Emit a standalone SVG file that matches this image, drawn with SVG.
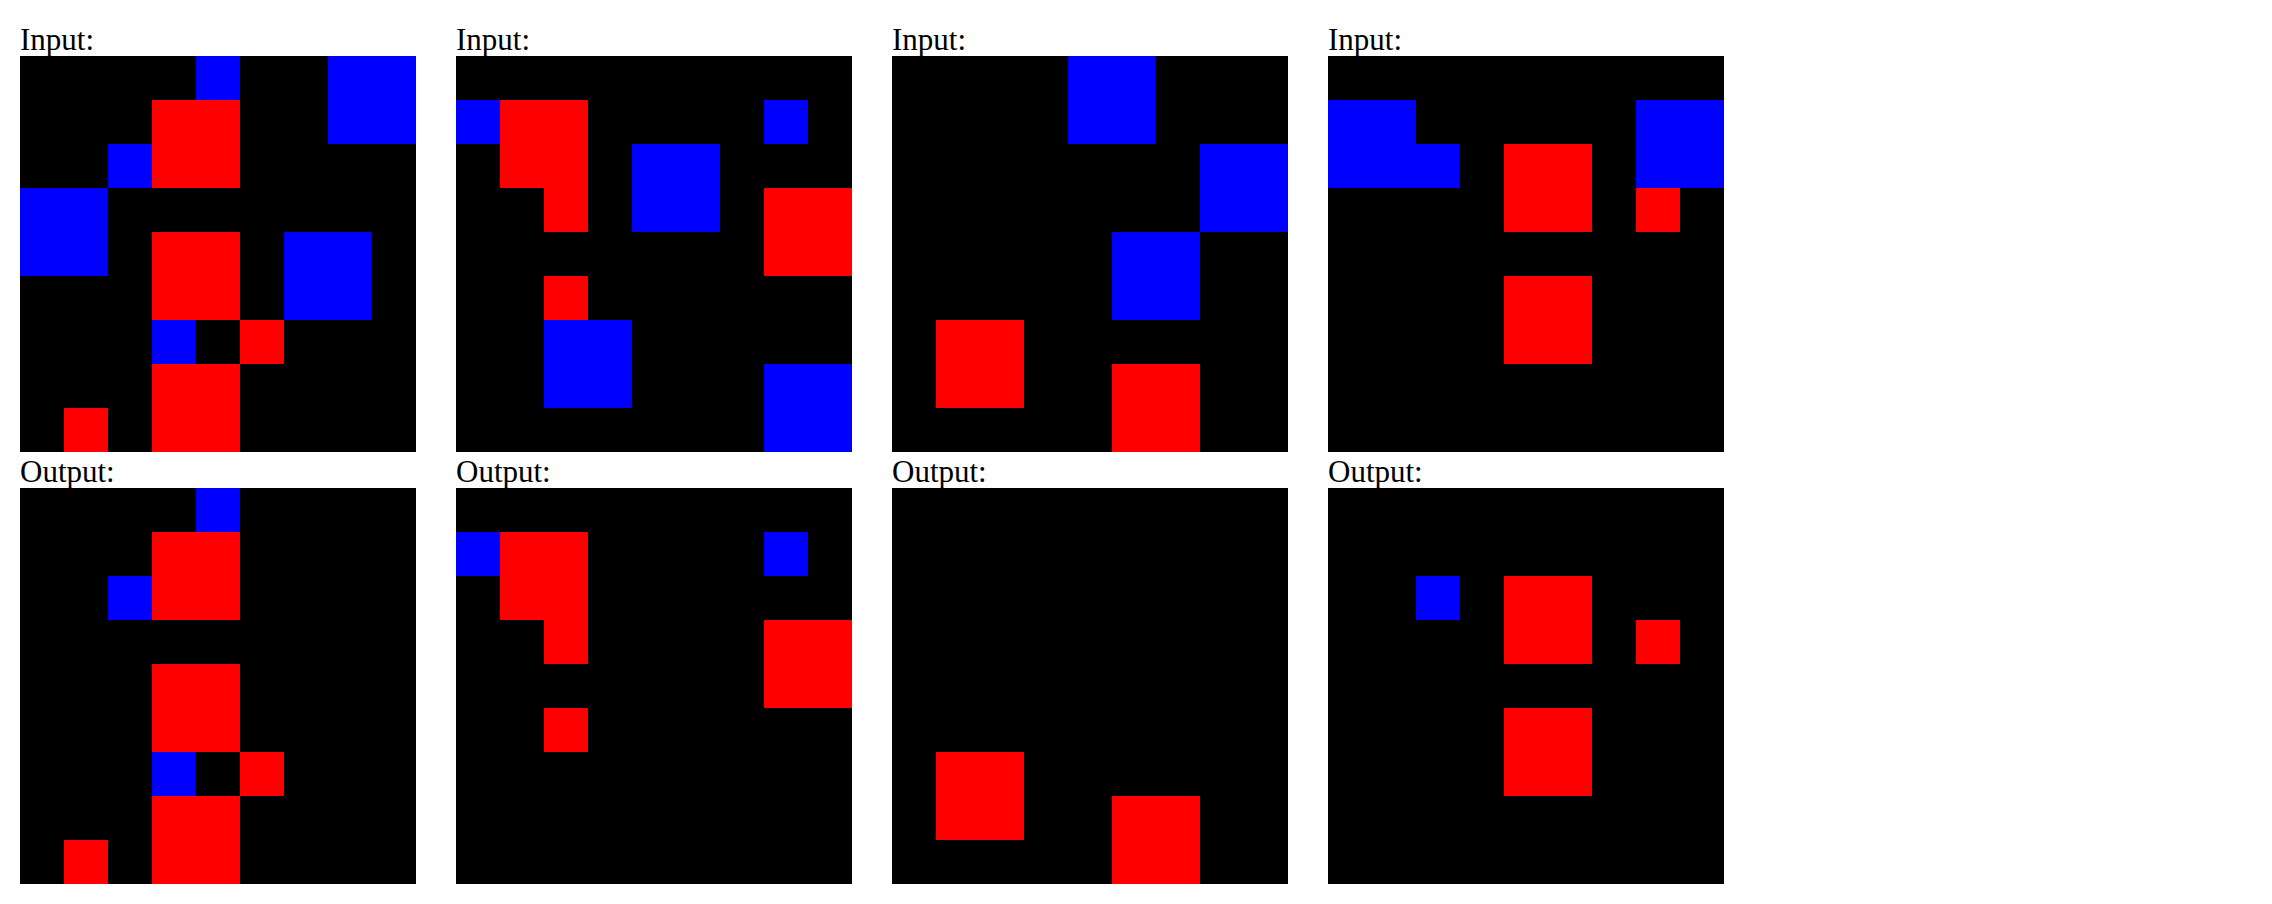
<svg xmlns="http://www.w3.org/2000/svg" width="2272" height="904" viewBox="0 0 2272 904">
<style>
.lbl{font-family:"Liberation Serif","Times New Roman",serif;font-size:31px;fill:#000}
.bg{fill:#000}
.r{fill:#ff0000}
.b{fill:#0000ff}
</style>
<rect x="0" y="0" width="2272" height="904" fill="#fff"/>
<g id="pair1-input">
<text class="lbl" x="20" y="50">Input:</text>
<g transform="translate(20,56)">
<rect class="bg" width="396" height="396"/>
<rect class="b" x="176" y="0" width="44" height="44"/>
<rect class="b" x="308" y="0" width="88" height="88"/>
<rect class="r" x="132" y="44" width="88" height="88"/>
<rect class="b" x="88" y="88" width="44" height="44"/>
<rect class="b" x="0" y="132" width="88" height="88"/>
<rect class="r" x="132" y="176" width="88" height="88"/>
<rect class="b" x="264" y="176" width="88" height="88"/>
<rect class="b" x="132" y="264" width="44" height="44"/>
<rect class="r" x="220" y="264" width="44" height="44"/>
<rect class="r" x="132" y="308" width="88" height="88"/>
<rect class="r" x="44" y="352" width="44" height="44"/>
</g>
</g>
<g id="pair1-output">
<text class="lbl" x="20" y="482">Output:</text>
<g transform="translate(20,488)">
<rect class="bg" width="396" height="396"/>
<rect class="b" x="176" y="0" width="44" height="44"/>
<rect class="r" x="132" y="44" width="88" height="88"/>
<rect class="b" x="88" y="88" width="44" height="44"/>
<rect class="r" x="132" y="176" width="88" height="88"/>
<rect class="b" x="132" y="264" width="44" height="44"/>
<rect class="r" x="220" y="264" width="44" height="44"/>
<rect class="r" x="132" y="308" width="88" height="88"/>
<rect class="r" x="44" y="352" width="44" height="44"/>
</g>
</g>
<g id="pair2-input">
<text class="lbl" x="456" y="50">Input:</text>
<g transform="translate(456,56)">
<rect class="bg" width="396" height="396"/>
<rect class="b" x="0" y="44" width="44" height="44"/>
<rect class="r" x="44" y="44" width="88" height="88"/>
<rect class="r" x="88" y="132" width="44" height="44"/>
<rect class="b" x="308" y="44" width="44" height="44"/>
<rect class="b" x="176" y="88" width="88" height="88"/>
<rect class="r" x="308" y="132" width="88" height="88"/>
<rect class="r" x="88" y="220" width="44" height="44"/>
<rect class="b" x="88" y="264" width="88" height="88"/>
<rect class="b" x="308" y="308" width="88" height="88"/>
</g>
</g>
<g id="pair2-output">
<text class="lbl" x="456" y="482">Output:</text>
<g transform="translate(456,488)">
<rect class="bg" width="396" height="396"/>
<rect class="b" x="0" y="44" width="44" height="44"/>
<rect class="r" x="44" y="44" width="88" height="88"/>
<rect class="r" x="88" y="132" width="44" height="44"/>
<rect class="b" x="308" y="44" width="44" height="44"/>
<rect class="r" x="308" y="132" width="88" height="88"/>
<rect class="r" x="88" y="220" width="44" height="44"/>
</g>
</g>
<g id="pair3-input">
<text class="lbl" x="892" y="50">Input:</text>
<g transform="translate(892,56)">
<rect class="bg" width="396" height="396"/>
<rect class="b" x="176" y="0" width="88" height="88"/>
<rect class="b" x="308" y="88" width="88" height="88"/>
<rect class="b" x="220" y="176" width="88" height="88"/>
<rect class="r" x="44" y="264" width="88" height="88"/>
<rect class="r" x="220" y="308" width="88" height="88"/>
</g>
</g>
<g id="pair3-output">
<text class="lbl" x="892" y="482">Output:</text>
<g transform="translate(892,488)">
<rect class="bg" width="396" height="396"/>
<rect class="r" x="44" y="264" width="88" height="88"/>
<rect class="r" x="220" y="308" width="88" height="88"/>
</g>
</g>
<g id="pair4-input">
<text class="lbl" x="1328" y="50">Input:</text>
<g transform="translate(1328,56)">
<rect class="bg" width="396" height="396"/>
<rect class="b" x="0" y="44" width="88" height="88"/>
<rect class="b" x="88" y="88" width="44" height="44"/>
<rect class="b" x="308" y="44" width="88" height="88"/>
<rect class="r" x="176" y="88" width="88" height="88"/>
<rect class="r" x="308" y="132" width="44" height="44"/>
<rect class="r" x="176" y="220" width="88" height="88"/>
</g>
</g>
<g id="pair4-output">
<text class="lbl" x="1328" y="482">Output:</text>
<g transform="translate(1328,488)">
<rect class="bg" width="396" height="396"/>
<rect class="b" x="88" y="88" width="44" height="44"/>
<rect class="r" x="176" y="88" width="88" height="88"/>
<rect class="r" x="308" y="132" width="44" height="44"/>
<rect class="r" x="176" y="220" width="88" height="88"/>
</g>
</g>
<g id="connectors"></g>
</svg>
